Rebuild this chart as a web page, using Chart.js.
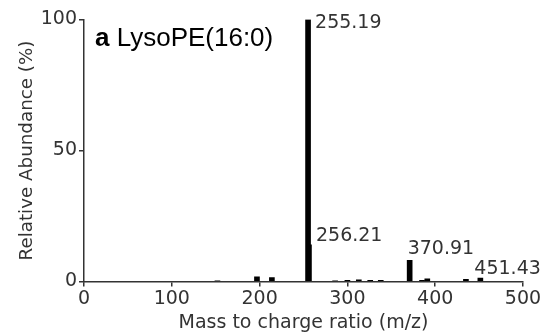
<!DOCTYPE html>
<html>
<head>
<meta charset="utf-8">
<script src="https://cdn.jsdelivr.net/npm/chart.js@4/dist/chart.umd.min.js"></script>
<style>
  html, body { margin: 0; padding: 0; background: #fff; }
  #wrap { width: 547px; height: 335px; }
</style>
</head>
<body>
<div id="wrap"><canvas id="msChart" width="547" height="335"></canvas></div>
<script>
// peak list
const mzValues = [152, 197, 214, 255.19, 256.21, 286, 300, 313, 326, 338, 370.91, 385, 391, 435, 451.43];
const abundance = [0.3, 1.8, 1.5, 100, 14, 0.3, 0.4, 0.6, 0.4, 0.4, 8.1, 0.4, 1.0, 0.8, 1.3];

// annotated peaks
const labelMz = [255.19, 256.21, 370.91, 451.43];
const labelAbund = [100, 14, 8.1, 1.3];
const labelText = ['255.19', '256.21', '370.91', '451.43'];
const labelOffsets = [[7, 8.5], [7, -3.5], [-2, -6], [-6, -4]]; // px from peak top

const xTicks = [0, 100, 200, 300, 400, 500];
const yTicks = [0, 50, 100];

const textColor = '#333';
const tickFont = { family: 'DejaVu Sans', size: 19 };

const peakLabels = {
    id: 'peakLabels',
    afterDatasetsDraw(chart) {
        const ctx = chart.ctx;
        const xs = chart.scales.x, ys = chart.scales.y;
        ctx.save();
        ctx.fillStyle = textColor;
        ctx.font = '19px "DejaVu Sans"';
        ctx.textAlign = 'left';
        ctx.textBaseline = 'alphabetic';
        labelText.forEach((t, i) => {
            const px = xs.getPixelForValue(labelMz[i]);
            const py = ys.getPixelForValue(labelAbund[i]);
            ctx.fillText(t, px + labelOffsets[i][0], py + labelOffsets[i][1]);
        });

        // panel title
        ctx.fillStyle = '#000';
        ctx.font = 'bold 26px "Liberation Sans"';
        ctx.fillText('a', 95, 46);
        const w = ctx.measureText('a').width;
        ctx.font = '26px "Liberation Sans"';
        ctx.fillText(' LysoPE(16:0)', 95 + w, 46);
        ctx.restore();
    }
};

function msRenderChart() {
    const points = mzValues.map((mz, i) => ({ x: mz, y: abundance[i] }));

    const config = {
        type: 'bar',
        data: {
            datasets: [{
                data: points,
                backgroundColor: '#000',
                borderWidth: 0,
                barThickness: 5,
                grouped: false
            }]
        },
        options: {
            responsive: false,
            animation: false,
            events: [],
            layout: { padding: { left: 0, right: 24, top: 19.5, bottom: 0 } },
            plugins: {
                legend: { display: false },
                tooltip: { enabled: false }
            },
            scales: {
                x: {
                    type: 'linear',
                    offset: false,
                    min: 0,
                    max: 500,
                    afterBuildTicks: (scale) => { scale.ticks = xTicks.map(v => ({ value: v })); },
                    afterFit: (scale) => { scale.height = 53.5; },
                    grid: { display: true, offset: false, drawOnChartArea: false, drawTicks: true, tickLength: 5, color: textColor, lineWidth: 1.5 },
                    border: { display: true, color: textColor, width: 1.5 },
                    ticks: { color: textColor, font: tickFont, padding: 1, maxRotation: 0 },
                    title: { display: true, text: 'Mass to charge ratio (m/z)', color: textColor, font: tickFont, padding: { top: 0, bottom: 1 } }
                },
                y: {
                    type: 'linear',
                    min: 0,
                    max: 100,
                    afterBuildTicks: (scale) => { scale.ticks = yTicks.map(v => ({ value: v })); },
                    afterFit: (scale) => { scale.width = 84; },
                    grid: { display: true, drawOnChartArea: false, drawTicks: true, tickLength: 5, color: textColor, lineWidth: 1.5 },
                    border: { display: true, color: textColor, width: 1.5 },
                    ticks: { color: textColor, font: tickFont, padding: 2 },
                    title: { display: true, text: 'Relative Abundance (%)', color: textColor, font: { family: 'DejaVu Sans', size: 18.3 }, padding: { top: 16, bottom: 0 } }
                }
            }
        },
        plugins: [peakLabels]
    };

    return new Chart(document.getElementById('msChart'), config);
}

msRenderChart();
</script>
</body>
</html>
